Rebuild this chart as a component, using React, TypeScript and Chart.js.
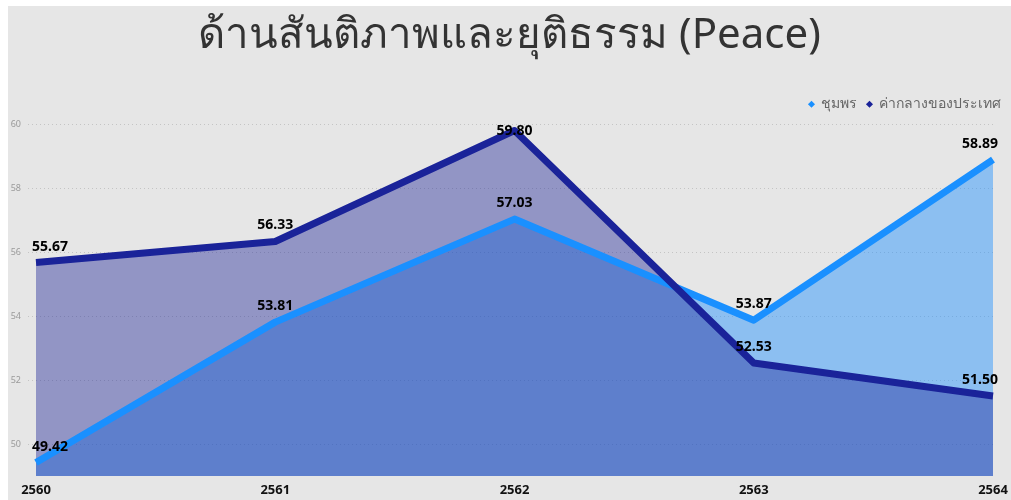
import React, { useEffect, useRef } from "react";
import { Chart, registerables } from "chart.js";

Chart.register(...registerables);

const TITLE = "ด้านสันติภาพและยุติธรรม (Peace)";
const years = ["2560", "2561", "2562", "2563", "2564"];
const chumphonLabel = "ชุมพร";
const chumphon = [49.42, 53.81, 57.03, 53.87, 58.89];
const nationalLabel = "ค่ากลางของประเทศ";
const national = [55.67, 56.33, 59.8, 52.53, 51.5];
const yTicks = [50, 52, 54, 56, 58, 60];

const FONT = '"Noto Sans", "Open Sans", sans-serif';

const dataLabels = {
  id: "dataLabels",
  afterDatasetsDraw(chart: any) {
    const ctx = chart.ctx;
    const area = chart.chartArea;
    ctx.save();
    ctx.font = `bold 14px ${FONT}`;
    ctx.fillStyle = "#000";
    ctx.textAlign = "center";
    ctx.textBaseline = "middle";
    chart.data.datasets.forEach((ds: any, di: number) => {
      const meta = chart.getDatasetMeta(di);
      meta.data.forEach((pt: any, i: number) => {
        const txt = Number(ds.data[i]).toFixed(2);
        const w = ctx.measureText(txt).width;
        let x = pt.x;
        if (x - w / 2 < area.left - 4) x = area.left - 4 + w / 2;
        if (x + w / 2 > area.right + 5) x = area.right + 5 - w / 2;
        let y = pt.y - 16;
        if (y - 7 < area.top) y = pt.y + 1;
        ctx.fillText(txt, x, y);
      });
    });
    ctx.restore();
  },
};

export default function App() {
  const ref = useRef<HTMLCanvasElement | null>(null);
  useEffect(() => {
    if (!ref.current) return;
    const defaultLabels = (Chart.defaults as any).plugins.legend.labels.generateLabels;
    const chart = new Chart(ref.current, {
      type: "line",
      data: {
        labels: years,
        datasets: [
          {
            label: chumphonLabel,
            data: chumphon,
            borderColor: "#1a90ff",
            backgroundColor: "rgba(30,144,255,0.45)",
            fill: "start",
            borderWidth: 7,
            pointRadius: 0,
            borderJoinStyle: "round",
            order: 1,
            yAxisID: "y",
          },
          {
            label: nationalLabel,
            data: national,
            borderColor: "#1a2399",
            backgroundColor: "rgba(26,35,150,0.41)",
            fill: "start",
            borderWidth: 7,
            pointRadius: 0,
            borderJoinStyle: "round",
            order: 0,
            yAxisID: "y",
          },
        ],
      },
      options: {
        animation: false,
        responsive: false,
        maintainAspectRatio: false,
        layout: { padding: { left: 0, right: 0, top: 0, bottom: 0 } },
        plugins: {
          filler: { drawTime: "beforeDatasetsDraw" } as any,
          tooltip: { enabled: false },
          title: {
            display: true,
            text: TITLE,
            color: "#333",
            font: { family: FONT, size: 42, weight: "normal" },
            padding: { top: 5, bottom: 25.8 },
          },
          legend: {
            display: true,
            position: "top",
            align: "end",
            reverse: true,
            labels: {
              usePointStyle: true,
              pointStyle: "rectRot",
              boxWidth: 5,
              boxHeight: 5,
              padding: 10,
              color: "#666",
              font: { family: FONT, size: 14 },
              generateLabels(chart: any) {
                return defaultLabels(chart).map((l: any) => ({
                  ...l,
                  fillStyle: l.strokeStyle,
                  lineWidth: 0,
                }));
              },
            },
          },
        },
        scales: {
          x: {
            type: "category",
            offset: false,
            grid: { display: false, drawTicks: false },
            border: { display: false },
            ticks: {
              color: "#111",
              font: { family: FONT, size: 13, weight: "bold" },
              padding: 6,
              maxRotation: 0,
              autoSkip: false,
            },
            afterFit(scale: any) {
              scale.height = 24;
              scale.paddingLeft = 0;
              scale.paddingRight = 0;
            },
          },
          y: {
            min: 49,
            max: 60.09,
            afterFit(scale: any) {
              scale.width = 28;
            },
            afterBuildTicks(scale: any) {
              scale.ticks = yTicks.map((v) => ({ value: v }));
            },
            grid: {
              color: "#c4c4c4",
              lineWidth: 1,
              drawTicks: true,
              tickLength: 8,
              tickBorderDash: [1, 3],
              tickColor: "#c4c4c4",
            },
            border: { display: false, dash: [1, 3] },
            ticks: {
              color: "#9a9a9a",
              font: { family: FONT, size: 9 },
              padding: 7,
            },
          },
          yRight: {
            position: "right",
            display: true,
            min: 49,
            max: 60.09,
            grid: { display: false, drawTicks: false },
            border: { display: false },
            ticks: { display: false },
            afterFit(scale: any) {
              scale.width = 18;
            },
          },
        },
      },
      plugins: [dataLabels],
    });
    return () => chart.destroy();
  }, []);
  return (
    <div
      style={{
        position: "absolute",
        left: 8,
        top: 6,
        width: 1003,
        height: 494,
        background: "#e6e6e6",
      }}
    >
      <canvas ref={ref} width={1003} height={494} style={{ display: "block" }} />
    </div>
  );
}
